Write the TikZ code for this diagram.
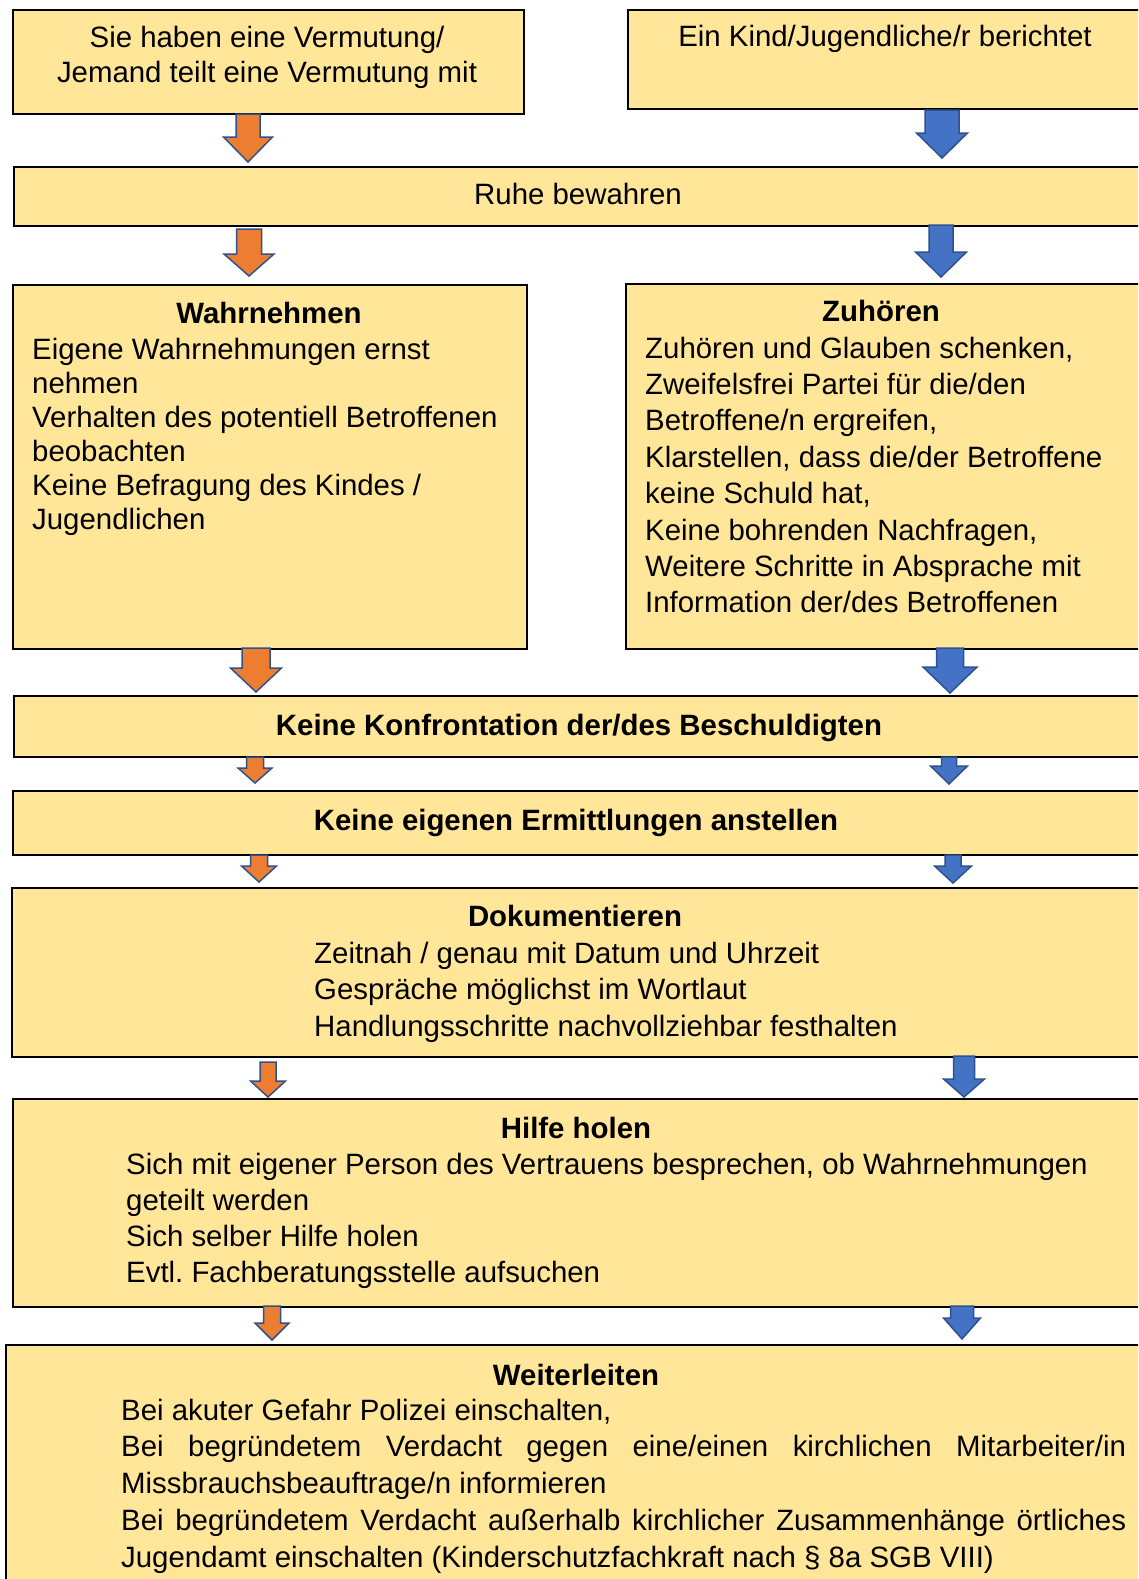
\documentclass[tikz,border=0pt]{standalone}
\usepackage{fontspec}
\setmainfont{Liberation Sans}
\frenchspacing
\definecolor{boxfill}{HTML}{FFE699}
\definecolor{aorange}{HTML}{ED7D31}
\definecolor{ablue}{HTML}{4472C4}
\definecolor{aedge}{HTML}{2F528F}
\newcommand\blockarrow[7]{%
  \filldraw[arr, fill=#1] ({#2-#6},#3) -- ({#2+#6},#3) -- ({#2+#6},#4) -- ({#2+#7},#4) -- (#2,#5) -- ({#2-#7},#4) -- ({#2-#6},#4) -- cycle;}
\tikzset{
  box/.style={draw=black, line width=1.8pt, fill=boxfill, anchor=north west, inner sep=0pt},
  arr/.style={draw=aedge, line width=1.5pt, line join=miter},
  txt/.style={inner sep=0pt, font=\fontsize{29.4}{34}\selectfont\frenchspacing},
  ttl/.style={inner sep=0pt, font=\fontsize{29.4}{34}\selectfont\bfseries, anchor=base},
}
\begin{document}
\begin{tikzpicture}[x=1pt, y=-1pt]
\useasboundingbox (0,0) rectangle (1138,1579);
\clip (0,0) rectangle (1138,1579);
% boxes
\node[box, minimum width=511pt, minimum height=104pt] (b1) at (12,9) {};
\node[box, minimum width=523pt, minimum height=99pt] (b2) at (627,9) {};
\node[box, minimum width=1137pt, minimum height=59pt] (ruhe) at (13,166) {};
\node[box, minimum width=514pt, minimum height=364pt] (wahr) at (12,284) {};
\node[box, minimum width=525pt, minimum height=365pt] (zuh) at (625,283) {};
\node[box, minimum width=1137pt, minimum height=61pt] (konf) at (13,695) {};
\node[box, minimum width=1138pt, minimum height=64pt] (erm) at (12,790) {};
\node[box, minimum width=1139pt, minimum height=169pt] (dok) at (11,887) {};
\node[box, minimum width=1138pt, minimum height=208pt] (hilfe) at (12,1098) {};
\node[box, minimum width=1145pt, minimum height=260pt] (weiter) at (5,1344) {};
% arrows
\blockarrow{aorange}{248}{114}{137}{162}{12}{24.5}
\blockarrow{ablue}{942}{110}{133}{158}{17}{25.5}
\blockarrow{aorange}{249}{229}{254}{276}{12.5}{25}
\blockarrow{ablue}{941}{225}{252}{277}{12}{25.5}
\blockarrow{aorange}{256}{648}{668}{692}{14}{25.5}
\blockarrow{ablue}{950}{648}{667}{693}{13.5}{27}
\blockarrow{aorange}{255}{757}{768}{783}{8.5}{17}
\blockarrow{ablue}{949}{757}{766}{784}{7.5}{18.5}
\blockarrow{aorange}{259}{855}{866}{882}{8.5}{17.5}
\blockarrow{ablue}{953}{855}{866}{883}{8}{18.5}
\blockarrow{aorange}{268}{1062}{1081}{1097}{8}{17.5}
\blockarrow{ablue}{964}{1056}{1079}{1097}{10.5}{20.5}
\blockarrow{aorange}{272}{1306}{1323}{1340}{8.5}{17}
\blockarrow{ablue}{962}{1306}{1318}{1339}{11.5}{18.5}
% texts
\node[txt, anchor=base] (t1a) at (267,48) {Sie haben eine Vermutung/};
\node[txt, anchor=base] (t1b) at (267,82) {Jemand teilt eine Vermutung mit};
\node[txt, anchor=base] (t2) at (885,47) {Ein Kind/Jugendliche/r berichtet};
\node[txt, anchor=base] (t3) at (578,204) {Ruhe bewahren};
\node[ttl] (wt) at (269,323) {Wahrnehmen};
\node[txt, anchor=base west] (wb) at (32,359) {\parbox[t]{490pt}{\fontsize{29.4}{34}\selectfont Eigene Wahrnehmungen ernst\\ nehmen\\ Verhalten des potentiell Betroffenen\\ beobachten\\ Keine Befragung des Kindes /\\ Jugendlichen}};
\node[ttl] (zt) at (881,321) {Zuhören};
\node[txt, anchor=base west] (zb) at (645,358) {\parbox[t]{495pt}{\fontsize{29.4}{36.4}\selectfont Zuhören und Glauben schenken,\\ Zweifelsfrei Partei für die/den\\ Betroffene/n ergreifen,\\ Klarstellen, dass die/der Betroffene\\ keine Schuld hat,\\ Keine bohrenden Nachfragen,\\ Weitere Schritte in Absprache mit\\ Information der/des Betroffenen}};
\node[ttl] (kt) at (579,735) {Keine Konfrontation der/des Beschuldigten};
\node[ttl] (et) at (576,830) {Keine eigenen Ermittlungen anstellen};
\node[ttl] (dt) at (575,926) {Dokumentieren};
\node[txt, anchor=base west] (db) at (314,963) {\parbox[t]{800pt}{\fontsize{29.4}{36.5}\selectfont Zeitnah / genau mit Datum und Uhrzeit\\ Gespräche möglichst im Wortlaut\\ Handlungsschritte nachvollziehbar festhalten}};
\node[ttl] (ht) at (576,1138) {Hilfe holen};
\node[txt, anchor=base west] (hb) at (126,1174) {\parbox[t]{1000pt}{\fontsize{29.4}{36.3}\selectfont Sich mit eigener Person des Vertrauens besprechen, ob Wahrnehmungen\\ geteilt werden\\ Sich selber Hilfe holen\\ Evtl. Fachberatungsstelle aufsuchen}};
\node[ttl] (wet) at (576,1385) {Weiterleiten};
\node[txt, anchor=base west] (web) at (121,1420) {\parbox[t]{1005pt}{\fontsize{29.4}{36.75}\selectfont Bei akuter Gefahr Polizei einschalten,\\ \makebox[\linewidth][s]{Bei begründetem Verdacht gegen eine/einen kirchlichen Mitarbeiter/in}\\ Missbrauchsbeauftrage/n informieren\\ \makebox[\linewidth][s]{Bei begründetem Verdacht außerhalb kirchlicher Zusammenhänge örtliches}\\ Jugendamt einschalten (Kinderschutzfachkraft nach § 8a SGB VIII)}};
\end{tikzpicture}
\end{document}
